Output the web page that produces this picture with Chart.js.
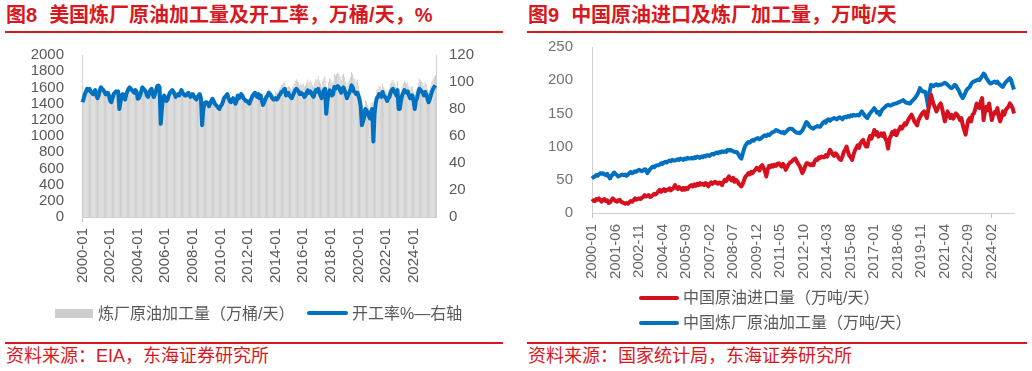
<!DOCTYPE html>
<html>
<head>
<meta charset="utf-8">
<script src="https://cdn.jsdelivr.net/npm/chart.js@4.4.0/dist/chart.umd.min.js"></script>
<style>
body{margin:0;width:1032px;height:371px;background:#fff;position:relative;overflow:hidden;font-family:"Liberation Sans","Noto Sans CJK SC",sans-serif}
.abs{position:absolute}
.titulo{color:#d7191f;font-weight:bold;font-size:20px;line-height:24px;top:3px;white-space:nowrap}
.titulo span{margin-left:12px}
.regua{background:#d7191f;height:2px}
.fonte{color:#d7191f;font-size:18px;line-height:22px;top:345px;white-space:nowrap}
.leg{color:#595959;font-size:16px;line-height:18px;white-space:nowrap}
canvas{position:absolute}
</style>
</head>
<body>
<div class="abs titulo" style="left:6px">图8<span>美国炼厂原油加工量及开工率，万桶/天，%</span></div>
<div class="abs regua" style="left:5px;top:31px;width:498px"></div>
<div class="abs titulo" style="left:528px">图9<span>中国原油进口及炼厂加工量，万吨/天</span></div>
<div class="abs regua" style="left:527px;top:31px;width:500px"></div>

<canvas id="graficoEUA" width="515" height="252" style="left:0;top:40px"></canvas>
<canvas id="graficoChina" width="512" height="253" style="left:520px;top:35px"></canvas>

<div class="abs" style="left:55px;top:309px;width:38px;height:9px;background:#cdcdcd"></div>
<div class="abs leg" style="left:98px;top:305px">炼厂原油加工量（万桶/天）</div>
<div class="abs" style="left:307px;top:311px;width:41px;height:4px;background:#0070c0;border-radius:2px"></div>
<div class="abs leg" style="left:352px;top:305px">开工率%—右轴</div>

<div class="abs" style="left:639px;top:296px;width:40px;height:4px;background:#d6101f;border-radius:2px"></div>
<div class="abs leg" style="left:683px;top:289px">中国原油进口量（万吨/天）</div>
<div class="abs" style="left:639px;top:321px;width:40px;height:4px;background:#0070c0;border-radius:2px"></div>
<div class="abs leg" style="left:683px;top:314px">中国炼厂原油加工量（万吨/天）</div>

<div class="abs regua" style="left:5px;top:342px;width:498px"></div>
<div class="abs fonte" style="left:6px">资料来源：EIA，东海证券研究所</div>
<div class="abs regua" style="left:527px;top:342px;width:500px"></div>
<div class="abs fonte" style="left:528px">资料来源：国家统计局，东海证券研究所</div>

<script>
// 美国：炼厂开工率 %，2000-01 起按月
let utilizacao = [
85,88,91,93,95,94,95,93,92,91,92,94,
90,88,90,94,96,95,94,93,91,91,92,90,
86,85,88,91,92,93,92,93,80,85,90,91,
88,87,91,93,95,96,95,94,93,92,94,92.6,
87.6,88,90,93,96,95,94,93,90,89,92,94,
95,91,89,91,94,97,97.4,96,69,80,88,90,
88,86,87,90,92,93,94,93,91,89,90,91,
90,92,94,92,91,90,90,91,92,90,89,91,
91,89,88,87,89,90,91,88,68,80,84,85,
85,84,82,84,86,87.6,86,84,83,82,81,80,
82,83,85,88,89,90,91,88,86,85,87,88,
86,84,86,90,88,89,91,90,88,87,86,86,
85,84,86,88,90,91,92,90,89,91,88,90,
86,83,85,87,89,90,92,91,90,88,87,87,
88,87,88,90,91,92.6,93,94,95,90,91,92,
90,89,88,90,92,94,95,94,93,91,92,91,
91,89,90,92,93.8,92,93,92,90,89,92,94,
93,95,92,90,88,92,94,95,76.5,86,91,93.8,
92,90,91,96.3,95,96,97,96,94,92,95,96,
93.8,91,88,90,92,94,97.5,96,93,92.6,91,92,
90,87,82,68,71,74,80,79,77,75,73,78,
80,56,76,84,88,89,91,90,89,92.6,90,89,
88,86,88,89,92,94,95,93,92,90,94,80,
80,86,90,92,94,93,92,93,90,88,90,90,
86,80,86,88,92,95,94,93,92,90,92.6,91,
88,85,87,90,93,95,96.3,97.5
];

// 美国：炼厂原油加工量 万桶/天
let processamento = [
1403,1452,1502,1535,1568,1551,1568,1535,1518,1502,1518,1551,
1485,1452,1485,1551,1584,1568,1551,1535,1502,1502,1518,1485,
1419,1403,1452,1502,1518,1535,1518,1535,1320,1403,1485,1502,
1452,1436,1502,1535,1568,1584,1568,1551,1535,1518,1551,1528,
1445,1452,1485,1535,1584,1568,1551,1535,1485,1469,1518,1551,
1568,1502,1469,1502,1551,1601,1607,1584,1139,1320,1452,1485,
1452,1419,1436,1485,1518,1535,1551,1535,1502,1469,1485,1502,
1485,1518,1551,1518,1502,1485,1485,1502,1518,1485,1469,1502,
1502,1469,1452,1436,1469,1485,1502,1452,1122,1320,1386,1403,
1403,1386,1353,1386,1419,1445,1419,1386,1370,1353,1337,1320,
1353,1370,1403,1452,1469,1485,1502,1452,1419,1403,1436,1452,
1419,1386,1419,1485,1452,1469,1502,1485,1452,1436,1419,1419,
1428,1411,1445,1478,1512,1529,1546,1512,1495,1529,1478,1512,
1479,1428,1462,1496,1531,1548,1582,1565,1548,1514,1496,1496,
1549,1531,1549,1584,1602,1630,1637,1654,1672,1584,1602,1619,
1611,1593,1575,1611,1647,1683,1701,1683,1665,1629,1647,1629,
1647,1611,1629,1665,1698,1665,1683,1665,1629,1611,1665,1701,
1702,1739,1684,1647,1610,1684,1720,1739,1400,1574,1665,1717,
1693,1656,1674,1772,1748,1766,1785,1766,1730,1693,1748,1766,
1726,1674,1619,1656,1693,1730,1794,1766,1711,1704,1674,1693,
1620,1566,1476,1224,1278,1332,1440,1422,1386,1350,1314,1404,
1424,997,1353,1495,1566,1584,1620,1602,1584,1648,1602,1584,
1566,1531,1566,1584,1638,1673,1691,1655,1638,1602,1673,1424,
1432,1539,1611,1647,1683,1665,1647,1665,1611,1575,1611,1611,
1548,1440,1548,1584,1656,1710,1692,1674,1656,1620,1667,1638,
1584,1530,1566,1620,1674,1710,1733,1755
];

// 中国：原油进口量 万吨/天，2000-01 起按月
let importacao = [
17,19,18,21,20,22,19,17,20,21,18,19,
15,16,19,22,20,18,17,19,20,17,16,15,
14,15,14,16,18,17,19,22,20,21,22,21,
23,24,27,25,26,27,24,25,27,29,28,30,
33,35,32,34,36,33,35,35,37,34,36,38,
42,38,36,39,37,35,38,35,38,36,39,41,
42,40,43,41,44,42,45,43,44,42,45,44,
40,43,46,44,46,47,45,44,46,45,42,47,
50,48,52,55,51,49,53,47,50,48,44,42,
40,44,50,55,57,60,58,62,60,63,65,68,
67,64,70,72,68,63,55,66,71,69,72,70,
73,71,74,75,72,70,74,71,65,69,73,76,
77,79,81,82,78,74,71,66,60,64,70,75,
75,73,72,74,72,78,81,80,84,83,85,84,
84,87,85,90,95,92,88,86,90,88,84,81,
80,85,92,95,100,92,86,84,80,88,94,98,
102,98,105,108,110,104,100,100,110,116,112,118,
125,118,122,115,117,120,116,120,112,108,97,112,
116,122,119,124,117,122,126,130,127,131,135,133,
138,142,145,148,143,138,135,132,140,144,148,151,
153,148,143,155,165,178,170,163,158,153,158,162,
165,158,148,138,145,153,147,143,148,142,146,150,
148,144,140,143,132,125,118,130,140,143,138,148,
150,156,165,160,158,168,173,140,152,160,155,165,
152,140,148,152,150,158,145,138,145,153,148,155,
158,160,165,162,158,150
];

// 中国：炼厂原油加工量 万吨/天
let refino = [
52,54,55,57,56,58,60,59,60,58,57,59,
55,52,56,58,61,59,57,55,56,57,58,57,
58,56,58,60,62,60,61,63,62,64,65,64,
63,64,66,65,60,63,66,68,70,69,71,72,
72,73,75,74,76,77,76,78,79,78,80,79,
79,80,81,80,82,81,80,82,81,83,82,82,
83,82,84,83,85,84,83,85,84,86,85,87,
87,86,88,89,88,90,91,90,92,91,93,92,
93,92,95,94,95,94,93,92,92,91,88,84,
82,90,97,102,105,107,106,108,110,109,111,112,
113,111,112,114,116,117,116,118,117,119,121,122,
123,125,124,123,122,121,122,120,122,124,126,127,
127,126,124,122,121,121,120,122,124,128,133,137,
135,131,129,128,127,129,130,131,130,130,133,136,
138,136,140,141,139,141,142,143,142,141,143,144,
143,141,144,145,144,146,145,147,146,148,147,147,
148,147,150,153,150,147,145,143,147,150,153,155,
158,155,151,152,148,153,156,158,160,162,163,162,
162,163,164,165,165,166,167,168,169,170,168,166,
166,165,165,168,170,172,175,178,182,188,185,183,
183,182,172,160,182,193,192,191,193,194,192,193,
193,194,195,196,195,193,191,189,188,190,193,192,
188,185,180,176,173,177,182,186,188,190,194,197,
198,199,200,201,200,203,206,210,208,203,200,197,
195,196,197,198,196,198,195,193,191,190,194,197,
199,201,203,200,192,186
];

function gerarMeses(n){
let meses=[];
for(let i=0;i<n;i++){
let ano=2000+Math.floor(i/12), mes=i%12+1;
meses.push(ano+"-"+(mes<10?"0"+mes:mes));
}
return meses;
}

let mesesEUA = gerarMeses(utilizacao.length);
let mesesChina = gerarMeses(refino.length);
let passoEUA = 24, passoChina = 17;

let fonte = '"Liberation Sans","Noto Sans CJK SC",sans-serif';
Chart.defaults.font.family = fonte;

function eixoX(passo, cor){
return {
type:'category',
grid:{drawOnChartArea:false, offset:false, tickLength:5, lineWidth:1,
color:(c)=> c.index % passo === 0 ? '#bfbfbf' : 'rgba(0,0,0,0)'},
border:{color:'#d0d0d0'},
ticks:{autoSkip:false, minRotation:90, maxRotation:90, padding:6, color:cor, font:{size:15},
callback:function(v,i){ return i % passo === 0 ? this.getLabelForValue(v) : null; }},
afterFit:(s)=>{ s.height = 75; }
};
}

// eixo vertical: largura fixa e sem o padding extra do ticks.padding no topo
function eixoY(pos, min, max, passo, largura, pad, cor){
return {
position:pos, min:min, max:max,
ticks:{stepSize:passo, autoSkip:false, padding:pad, color:cor, font:{size:15}, callback:(v)=>String(v)},
grid:{display:false, drawTicks:false}, border:{color:'#d0d0d0'},
afterFit:(s)=>{ s.width = largura; s.paddingTop = 9; s.paddingBottom = 9; }
};
}

new Chart(document.getElementById("graficoEUA"),{
data:{
labels:mesesEUA,
datasets:[
{type:'line', label:'开工率%—右轴', data:utilizacao, yAxisID:'y2', borderColor:'#0070c0', borderWidth:4, pointRadius:0, borderJoinStyle:'round', order:0},
{type:'bar', label:'炼厂原油加工量（万桶/天）', data:processamento, yAxisID:'y', backgroundColor:'#cdcdcd', barPercentage:1, categoryPercentage:0.85, order:1}
]
},
options:{
responsive:false, animation:false, devicePixelRatio:1,
layout:{padding:{top:15}},
plugins:{legend:{display:false}, tooltip:{enabled:false}},
scales:{
x:Object.assign(eixoX(passoEUA,'#595959'),{offset:true}),
y:eixoY('left',0,2000,200,82,18,'#595959'),
y2:eixoY('right',0,120,20,79,13,'#595959')
}
}
});

new Chart(document.getElementById("graficoChina"),{
type:'line',
data:{
labels:mesesChina,
datasets:[
{label:'中国原油进口量（万吨/天）', data:importacao, borderColor:'#d6101f', borderWidth:4, pointRadius:0, borderJoinStyle:'round'},
{label:'中国炼厂原油加工量（万吨/天）', data:refino, borderColor:'#0070c0', borderWidth:4, pointRadius:0, borderJoinStyle:'round'}
]
},
options:{
responsive:false, animation:false, devicePixelRatio:1,
layout:{padding:{top:12, right:18}},
plugins:{legend:{display:false}, tooltip:{enabled:false}},
scales:{
x:Object.assign(eixoX(passoChina,'#666666'),{offset:false}),
y:eixoY('left',0,250,50,72,19,'#737373')
}
}
});
</script>
</body>
</html>
